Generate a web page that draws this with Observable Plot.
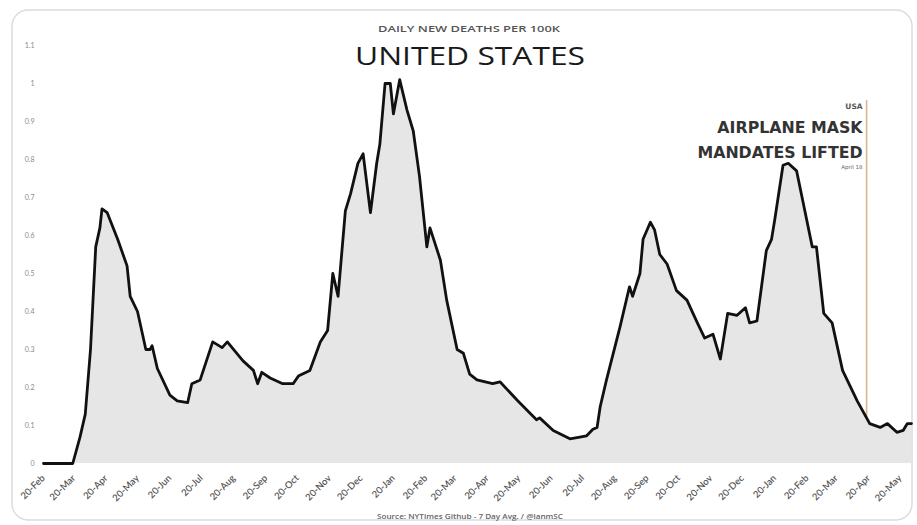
<!DOCTYPE html>
<html>
<head>
<meta charset="utf-8">
<script src="https://cdn.jsdelivr.net/npm/d3@7"></script>
<script src="https://cdn.jsdelivr.net/npm/@observablehq/plot@0.6"></script>
<style>
  html, body { margin: 0; padding: 0; background: #fff; }
  #chart { position: relative; width: 917px; height: 525px; }
  #chart svg { font-family: "Lato", "Noto Sans", sans-serif; }
</style>
</head>
<body>
<div id="chart"></div>
<script>
// ---- data ----
const dates = ["2020-02-20","2020-03-19","2020-03-26","2020-03-31","2020-04-05","2020-04-10","2020-04-14","2020-04-16","2020-04-21","2020-05-01","2020-05-10","2020-05-13","2020-05-20","2020-05-28","2020-06-01","2020-06-03","2020-06-08","2020-06-20","2020-06-27","2020-07-07","2020-07-11","2020-07-19","2020-07-31","2020-08-09","2020-08-14","2020-08-29","2020-09-08","2020-09-12","2020-09-16","2020-09-24","2020-10-06","2020-10-16","2020-10-21","2020-11-01","2020-11-11","2020-11-18","2020-11-23","2020-11-28","2020-12-05","2020-12-10","2020-12-17","2020-12-22","2020-12-29","2021-01-04","2021-01-07","2021-01-12","2021-01-17","2021-01-20","2021-01-26","2021-02-02","2021-02-08","2021-02-14","2021-02-21","2021-02-24","2021-03-06","2021-03-12","2021-03-22","2021-03-28","2021-04-03","2021-04-10","2021-04-25","2021-05-02","2021-05-19","2021-06-06","2021-06-09","2021-06-22","2021-07-08","2021-07-24","2021-07-30","2021-08-03","2021-08-06","2021-08-12","2021-08-25","2021-09-03","2021-09-06","2021-09-13","2021-09-16","2021-09-23","2021-09-27","2021-10-02","2021-10-09","2021-10-18","2021-10-28","2021-11-07","2021-11-14","2021-11-22","2021-11-29","2021-12-06","2021-12-15","2021-12-23","2021-12-27","2022-01-03","2022-01-12","2022-01-17","2022-01-20","2022-01-28","2022-02-02","2022-02-10","2022-02-16","2022-02-25","2022-03-01","2022-03-08","2022-03-16","2022-03-26","2022-04-09","2022-04-21","2022-05-01","2022-05-08","2022-05-17","2022-05-23","2022-05-27","2022-05-31"];
const deathsPer100k = [0,0,0.07,0.13,0.30,0.57,0.62,0.67,0.66,0.59,0.52,0.44,0.40,0.30,0.30,0.31,0.25,0.18,0.165,0.16,0.21,0.22,0.32,0.305,0.32,0.27,0.245,0.21,0.24,0.225,0.21,0.21,0.23,0.245,0.32,0.35,0.50,0.44,0.665,0.71,0.79,0.815,0.66,0.79,0.84,1.0,1.0,0.92,1.01,0.93,0.875,0.755,0.57,0.62,0.535,0.43,0.30,0.29,0.235,0.22,0.21,0.215,0.165,0.115,0.12,0.087,0.065,0.073,0.09,0.095,0.15,0.22,0.36,0.465,0.44,0.50,0.59,0.635,0.615,0.55,0.525,0.455,0.43,0.37,0.33,0.34,0.275,0.395,0.39,0.41,0.37,0.375,0.56,0.59,0.64,0.785,0.79,0.77,0.69,0.57,0.57,0.395,0.37,0.245,0.165,0.105,0.095,0.105,0.082,0.087,0.105,0.105];

const xTickDates = ["2020-02-20","2020-03-20","2020-04-20","2020-05-20","2020-06-20","2020-07-20","2020-08-20","2020-09-20","2020-10-20","2020-11-20","2020-12-20","2021-01-20","2021-02-20","2021-03-20","2021-04-20","2021-05-20","2021-06-20","2021-07-20","2021-08-20","2021-09-20","2021-10-20","2021-11-20","2021-12-20","2022-01-20","2022-02-20","2022-03-20","2022-04-20","2022-05-20"];
const xTickLabels = ["20-Feb","20-Mar","20-Apr","20-May","20-Jun","20-Jul","20-Aug","20-Sep","20-Oct","20-Nov","20-Dec","20-Jan","20-Feb","20-Mar","20-Apr","20-May","20-Jun","20-Jul","20-Aug","20-Sep","20-Oct","20-Nov","20-Dec","20-Jan","20-Feb","20-Mar","20-Apr","20-May"];
const yTicks = [0,0.1,0.2,0.3,0.4,0.5,0.6,0.7,0.8,0.9,1,1.1];
const yTickLabels = ["0","0.1","0.2","0.3","0.4","0.5","0.6","0.7","0.8","0.9","1","1.1"];

const mandateDate = "2022-04-18";
const annotationLines = ["USA","AIRPLANE MASK","MANDATES LIFTED","April 18"];
const titleText = "UNITED STATES";
const subtitleText = "DAILY NEW DEATHS PER 100K";
const captionText = "Source: NYTimes Github - 7 Day Avg. / @ianmSC";

// ---- build ----
const data = dates.map((d, i) => ({date: new Date(d), value: deathsPer100k[i]}));
const tickDates = xTickDates.map(d => new Date(d));
const xLabelOf = new Map(tickDates.map((d, i) => [+d, xTickLabels[i]]));
const yLabelOf = new Map(yTicks.map((v, i) => [v, yTickLabels[i]]));
const mDate = new Date(mandateDate);
const annFont = "DejaVu Sans";

const plot = Plot.plot({
  width: 917,
  height: 525,
  marginLeft: 43,
  marginRight: 6,
  marginTop: 45,
  marginBottom: 62,
  style: {background: "transparent", color: "#777", fontSize: "7px"},
  x: {type: "utc", domain: [new Date("2020-02-20"), new Date("2022-05-31")], label: null},
  y: {domain: [0, 1.1], label: null},
  marks: [
    Plot.ruleX([mDate], {y1: 0, y2: 0.955, stroke: "#dcb58e", strokeWidth: 1.6}),
    Plot.areaY(data, {x: "date", y: "value", fill: "#e6e6e6"}),
    Plot.lineY(data, {x: "date", y: "value", stroke: "#111", strokeWidth: 2.8, strokeLinejoin: "round"}),
    Plot.axisY({ticks: yTicks, tickSize: 0, tickPadding: 9, tickFormat: v => yLabelOf.get(v), fontSize: 7, fill: "#8a8a8a", label: null}),
    Plot.axisX({ticks: tickDates, tickSize: 0, tickPadding: 13, tickRotate: -45, tickFormat: d => xLabelOf.get(+d), fontSize: 9.5, fill: "#555", fontWeight: 600, label: null}),
    Plot.text([annotationLines[0]], {x: () => mDate, y: () => 0.934, text: d => d, textAnchor: "end", lineAnchor: "bottom", dx: -4, fontSize: 7.5, fill: "#555", fontWeight: 700, fontFamily: annFont}),
    Plot.text([annotationLines[1]], {x: () => mDate, y: () => 0.871, text: d => d, textAnchor: "end", lineAnchor: "bottom", dx: -4, fontSize: 15.8, fill: "#333", fontWeight: 700, fontFamily: annFont}),
    Plot.text([annotationLines[2]], {x: () => mDate, y: () => 0.805, text: d => d, textAnchor: "end", lineAnchor: "bottom", dx: -4, fontSize: 15.8, fill: "#333", fontWeight: 700, fontFamily: annFont}),
    Plot.text([annotationLines[3]], {x: () => mDate, y: () => 0.776, text: d => d, textAnchor: "end", lineAnchor: "bottom", dx: -4, fontSize: 5.5, fill: "#666", fontFamily: annFont})
  ]
});

const svg = d3.select(plot);
// card outline
svg.insert("rect", ":first-child")
  .attr("x", 12).attr("y", 10).attr("width", 900).attr("height", 510)
  .attr("rx", 16).attr("fill", "#fff").attr("stroke", "#dcdcdc").attr("stroke-width", 1.5);
// titles
svg.append("text").text(subtitleText)
  .attr("x", 469).attr("y", 32).attr("text-anchor", "middle")
  .attr("font-family", "Open Sans").attr("font-size", 9.5).attr("font-weight", 600)
  .attr("fill", "#555").attr("textLength", 182).attr("lengthAdjust", "spacingAndGlyphs");
svg.append("text").text(titleText)
  .attr("x", 470).attr("y", 65).attr("text-anchor", "middle")
  .attr("font-family", "Open Sans").attr("font-size", 25.5).attr("font-weight", 400)
  .attr("fill", "#1a1a1a").attr("textLength", 230).attr("lengthAdjust", "spacingAndGlyphs");
svg.append("text").text(captionText)
  .attr("x", 470).attr("y", 519).attr("text-anchor", "middle")
  .attr("font-family", "Open Sans").attr("font-size", 6.5).attr("font-weight", 600)
  .attr("fill", "#666").attr("textLength", 186).attr("lengthAdjust", "spacingAndGlyphs");

document.getElementById("chart").appendChild(plot);
</script>
</body>
</html>
